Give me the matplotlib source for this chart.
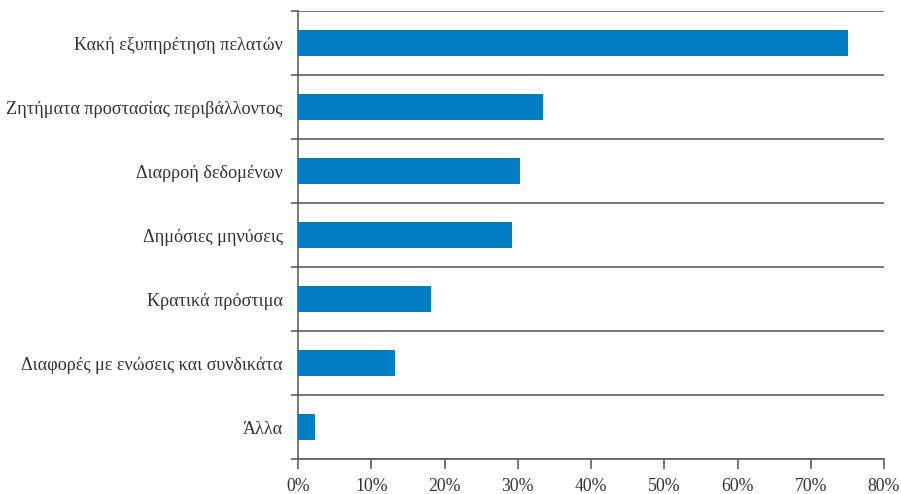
import numpy as np
import matplotlib.pyplot as plt
from matplotlib.ticker import FixedLocator, PercentFormatter

# Δεδομένα
categories = ['Κακή εξυπηρέτηση πελατών',
              'Ζητήματα προστασίας περιβάλλοντος',
              'Διαρροή δεδομένων',
              'Δημόσιες μηνύσεις',
              'Κρατικά πρόστιμα',
              'Διαφορές με ενώσεις και συνδικάτα',
              'Άλλα']
values = [75.1, 33.4, 30.3, 29.2, 18.2, 13.3, 2.3]
x_ticks = [0, 10, 20, 30, 40, 50, 60, 70, 80]

plt.rcParams['font.family'] = ['Liberation Serif', 'DejaVu Serif']

fig = plt.figure(figsize=(9.01, 4.94), dpi=100)
ax = fig.add_axes([298 / 901, 1 - 459 / 494, 586 / 901, 448 / 494])

line_col = '#5f5f5f'
text_col = '#333333'

pos = np.arange(len(categories))
ax.barh(pos, values, height=0.41, color='#007dc5', zorder=3)

ax.set_xlim(0, 80)
ax.set_ylim(len(categories) - 0.5, -0.5)

# Разделители между категориями
bounds = np.arange(len(categories) + 1) - 0.5
ax.yaxis.set_major_locator(FixedLocator(bounds))
ax.yaxis.set_major_formatter(plt.NullFormatter())
ax.yaxis.set_minor_locator(FixedLocator(pos))
ax.set_yticklabels(categories, minor=True)
ax.tick_params(axis='y', which='major', length=5, width=1.2, color=line_col)
ax.tick_params(axis='y', which='minor', length=0, labelsize=13.1,
               labelcolor=text_col, pad=11)
ax.grid(axis='y', which='major', color=line_col, linewidth=1.2, zorder=1)

ax.xaxis.set_major_locator(FixedLocator(x_ticks))
ax.xaxis.set_major_formatter(PercentFormatter(decimals=0))
ax.tick_params(axis='x', length=7, width=1.2, color=line_col,
               labelsize=12.8, labelcolor=text_col, pad=7)

for side in ['top', 'right']:
    ax.spines[side].set_visible(False)
for side in ['left', 'bottom']:
    ax.spines[side].set_color(line_col)
    ax.spines[side].set_linewidth(1.2)

fig.savefig('out.png', dpi=100)
